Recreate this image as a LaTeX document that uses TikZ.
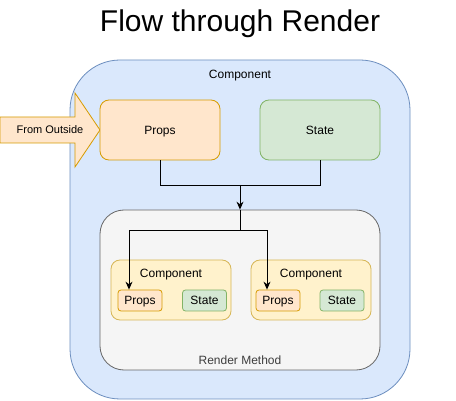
\documentclass[tikz,border=0pt]{standalone}
\usepackage{fontspec}
\setmainfont{Liberation Sans}
\usetikzlibrary{arrows.meta}
\definecolor{bluefill}{HTML}{DAE8FC}
\definecolor{blueline}{HTML}{6C8EBF}
\definecolor{orangefill}{HTML}{FFE6CC}
\definecolor{orangeline}{HTML}{D79B00}
\definecolor{greenfill}{HTML}{D5E8D4}
\definecolor{greenline}{HTML}{82B366}
\definecolor{yellowfill}{HTML}{FFF2CC}
\definecolor{yellowline}{HTML}{D6B656}
\definecolor{grayfill}{HTML}{F5F5F5}
\definecolor{grayline}{HTML}{666666}
\begin{document}
\begin{tikzpicture}[x=1pt,y=-1pt,>={Stealth[length=8pt,width=7pt]},
	font=\fontsize{12}{14}\selectfont,
	every node/.append style={text height=9pt,text depth=0pt},
	box/.style={draw,rounded corners=#1,line width=0.8pt,inner sep=0pt},
	propsbox/.style={box=9pt,fill=orangefill,draw=orangeline,minimum width=120pt,minimum height=60pt},
	statebox/.style={box=9pt,fill=greenfill,draw=greenline,minimum width=120pt,minimum height=60pt},
	subcomp/.style={box=9pt,fill=yellowfill,draw=yellowline,minimum width=120pt,minimum height=60pt},
	smallprops/.style={box=3pt,fill=orangefill,draw=orangeline,minimum width=44pt,minimum height=21pt},
	smallstate/.style={box=3pt,fill=greenfill,draw=greenline,minimum width=44pt,minimum height=21pt},
	link/.style={line width=0.9pt}]
	\useasboundingbox (0,0) rectangle (456,401);
	\fill[white] (0,0) rectangle (456,401);
	\node[text height=21.5pt] (title) at (240,21) {\fontsize{30}{36}\selectfont Flow through Render};
	\node[box=50pt,fill=bluefill,draw=blueline,minimum width=340pt,minimum height=339pt] (comp) at (240,229.5) {};
	\node (complabel) at (240,74) {Component};
	% arrow coming in from the left
	\draw[line width=0.8pt,draw=orangeline,fill=orangefill] (0,117)--(75,117)--(75,93)--(100,130)--(75,167)--(75,143)--(0,143)--cycle;
	\node[text height=8pt] (outside) at (50,130) {\fontsize{11}{13}\selectfont From Outside};
	\node[propsbox] (props) at (160,130) {Props};
	\node[statebox] (state) at (320,130) {State};
	\node[box=24pt,fill=grayfill,draw=grayline,minimum width=280pt,minimum height=160pt] (render) at (240,290) {};
	\node[text=grayline!60!black] (renderlabel) at (240,360) {Render Method};
	\node[subcomp] (compA) at (171,290) {};
	\node (compAlabel) at (171,273) {Component};
	\node[smallprops] (propsA) at (140,300.5) {Props};
	\node[smallstate] (stateA) at (204.5,300.5) {State};
	\node[subcomp] (compB) at (311,290) {};
	\node (compBlabel) at (311,273) {Component};
	\node[smallprops] (propsB) at (278,300.5) {Props};
	\node[smallstate] (stateB) at (342,300.5) {State};
	% flow into the render method
	\coordinate (join) at (240,185);
	\coordinate (split) at (240,230);
	\draw[link] (props.south)|-(join);
	\draw[link] (state.south)|-(join);
	\draw[link,->] (join)--(render.north);
	\draw[link,->] (render.north)--(split)-|([xshift=-11pt]propsA.north);
	\draw[link,->] (split)-|([xshift=-11pt]propsB.north);
\end{tikzpicture}
\end{document}
